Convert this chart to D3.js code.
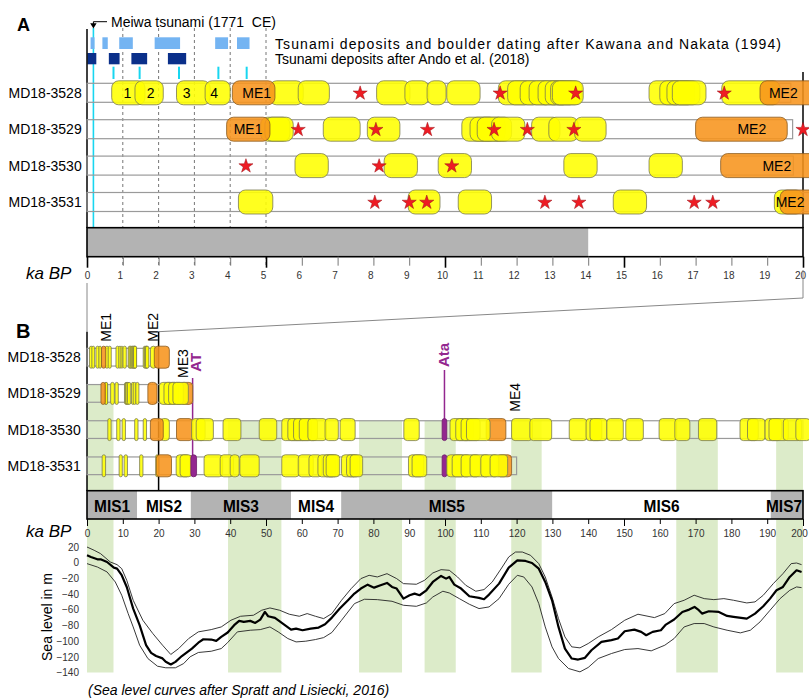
<!DOCTYPE html>
<html><head><meta charset="utf-8">
<script src="https://cdn.jsdelivr.net/npm/d3@7"></script>
<style>
body{margin:0;background:#fff}
svg{display:block;font-family:"Liberation Sans",Arial,sans-serif}
</style></head><body>
<svg id="chart" width="809" height="698"></svg>
<script>
// ---------- data ----------
const cores = ["MD18-3528", "MD18-3529", "MD18-3530", "MD18-3531"];

// dated units per core: [from ka, to ka, kind]  y = dated layer, o = megaevent, p = tephra
const units3528 = [[0.69,1.62,"y"],[1.34,2.13,"y"],[2.5,3.44,"y"],[3.3,4.0,"y"],[5.1,6.04,"y"],[4.06,5.25,"o"],[5.9,6.77,"y"],
  [8.09,9.02,"y"],[8.88,9.55,"y"],[9.5,10.03,"y"],[10.05,10.98,"y"],
  [11.49,12.42,"y"],[11.75,12.65,"y"],[12.1,13.02,"y"],[12.35,13.26,"y"],[12.6,13.49,"y"],[12.8,13.68,"y"],[12.95,13.82,"y"],[13.0,13.86,"y"],
  [15.7,16.66,"y"],[16.0,16.98,"y"],[16.2,17.12,"y"],[16.35,17.29,"y"],[17.73,19.36,"y"],[18.8,23.0,"o"]];
const units3529 = [[4.85,5.67,"y"],[4.97,5.76,"y"],[3.9,5.11,"o"],[6.6,7.63,"y"],[7.83,8.74,"y"],
  [10.47,11.44,"y"],[10.7,11.68,"y"],[10.9,11.86,"y"],[11.3,12.23,"y"],
  [12.42,13.21,"y"],[12.9,13.72,"y"],[13.62,14.5,"y"],[17.0,19.56,"o"],
  [26.0,29.5,"o"],[20.2,24.1,"y"],[21.5,25.5,"y"],[22.8,26.9,"y"],[24.0,28.3,"y"]];
const units3530 = [[5.81,6.74,"y"],[8.3,9.23,"y"],[9.81,10.74,"y"],[13.32,14.25,"y"],[15.7,16.63,"y"],
  [20.4,23.0,"y"],[17.7,21.3,"o"],[25.0,29.5,"o"],[29.2,33.0,"y"],[30.5,35.3,"y"],[38.0,43.0,"y"],[48.1,53.0,"y"],
  [54.4,59.5,"y"],[56.1,61.2,"y"],[57.7,62.8,"y"],[59.3,64.4,"y"],[61.7,66.9,"y"],[66.5,70.2,"y"],[70.7,74.9,"y"],
  [88.5,92.8,"y"],[99.2,100.5,"p"],[111.5,117.0,"o"],[101.4,107.2,"y"],[103.0,107.9,"y"],[104.5,109.8,"y"],[106.0,112.6,"y"],
  [118.6,124.4,"y"],[123.7,129.8,"y"],[134.7,139.6,"y"],[139.4,143.8,"y"],[140.5,145.2,"y"],[145.2,149.8,"y"],[150.5,155.4,"y"],
  [159.8,164.7,"y"],[164.2,168.4,"y"],[170.8,175.9,"y"],
  [182.4,187.5,"y"],[184.5,189.4,"y"],[189.4,194.0,"y"],[190.5,195.9,"y"],[194.5,199.6,"y"],[198.0,202.0,"y"]];
const units3531 = [[4.23,5.19,"y"],[8.97,9.86,"y"],[10.37,11.3,"y"],[14.7,15.63,"y"],[19.2,20.0,"y"],[19.36,23.6,"o"],
  [24.9,28.8,"y"],[26.0,29.3,"y"],[29.0,30.6,"p"],[32.7,37.9,"y"],[37.2,40.9,"y"],[40.0,42.5,"y"],[42.7,48.1,"y"],
  [54.4,59.3,"y"],[59.0,63.2,"y"],[62.0,65.6,"y"],[64.5,69.5,"y"],[66.0,70.2,"y"],[66.8,70.6,"y"],
  [71.1,75.5,"y"],[72.5,76.2,"y"],[73.5,77.0,"y"],[89.8,94.1,"y"],[90.8,94.9,"y"],[99.2,100.5,"p"],
  [114.5,118.6,"o"],[100.5,105.6,"y"],[102.0,107.2,"y"],[104.5,109.8,"y"],[107.0,112.6,"y"],[110.0,115.0,"y"],[112.6,117.5,"y"]];

// boulder / event ages (ka) marked by stars
const stars3528 = [7.63, 11.54, 13.65, 17.8];
const stars3529 = [5.9, 8.07, 9.51, 11.37, 12.3, 13.6, 20.0];
const stars3530 = [4.44, 8.16, 10.19];
const stars3531 = [8.04, 9.0, 9.49, 12.79, 13.74, 16.96, 17.48];

// names written inside units of the 0-20 ka panel: [core index, text, ka]
const unitTags = [[0,"1",1.13],[0,"2",1.78],[0,"3",2.78],[0,"4",3.55],[0,"ME1",4.74],[0,"ME2",19.45],
  [1,"ME1",4.5],[1,"ME2",18.57],[2,"ME2",19.27],[3,"ME2",19.64]];

// extent of each core record (ka)
const recordEndA = [19.66, 19.71, 19.73, 20.3];
const recordEndB = [19.66, 29.5, 200, 120];

// tsunami records (ka BP)
const meiwaAge = 0.179;
const kawanaNakata = [[0.1,0.21],[0.43,0.58],[0.9,1.28],[1.89,2.6],[3.58,3.94],[4.19,4.54]];
const andoDeposits = [[0.01,0.26],[0.61,0.91],[1.24,1.68],[2.26,2.77]];
const boulderDates = [0.74, 1.47, 2.57, 3.67, 4.46];
const guideAges = [1, 2, 3, 4, 5];

// marine isotope stages
const misBounds = [0, 14, 29, 57, 71, 130, 191, 200];
const misNames = ["MIS1","MIS2","MIS3","MIS4","MIS5","MIS6","MIS7"];
const warmBands = [[0,7.4],[39.4,54.3],[76,88],[94.3,103],[118.5,127],[164.6,176.2],[192.5,200]];
const warmBandTopCore = [1, 2, 2, 2, 2, 2, 2];

// event labels in the 0-200 ka panel: [text, ka, kind]
const eventTags = [["ME1",5.3,"k"],["ME2",18.3,"k"],["ME3",26.7,"k"],["AT",30.5,"p"],["Ata",99.7,"p"],["ME4",119.5,"k"]];
const tephraLines = [[29.5, 3, "AT"], [99.85, 2, "Ata"]];

// sea level (m) vs age (ka): mean and envelope
const seaMean = [[0,9.4],[1.1,7.3],[2.9,4.3],[3.8,4.3],[5.6,0.9],[7.5,-6.3],[8.4,-7.6],[9.7,-16],[11.1,-31],[12.9,-58.5],[14.7,-79.7],[16.5,-105],[17.9,-115],[19.3,-119],[21.1,-122],[22,-126.4],[23.4,-129.8],[24.7,-126.4],[26.5,-119],[29.3,-109.5],[31.1,-102],[32.5,-97.6],[34.7,-98],[36.1,-99.7],[37.5,-94.6],[39.3,-89],[41.1,-79.7],[42.5,-74.2],[43.8,-75.5],[45.6,-74.2],[47,-76.8],[48.4,-72.5],[49.7,-62.8],[50.6,-68.3],[52.5,-70.4],[54.7,-77.6],[57,-85.3],[58.4,-84],[60.2,-86.1],[62.5,-84],[64.7,-82.7],[66.5,-78.5],[68.4,-70],[70.6,-58.5],[72.9,-47.9],[74.7,-39.4],[76.5,-33],[78.4,-28],[80.2,-31.8],[82,-28.8],[83.8,-25.8],[85.2,-30.9],[86.5,-33],[88.4,-45.8],[90.1,-41.5],[91.5,-39.4],[92.9,-41.5],[94.8,-35.2],[96.6,-24.6],[98.9,-16.9],[100.3,-20.3],[101.2,-18.2],[102.6,-28],[104.5,-33],[106.8,-42.8],[109.5,-44.9],[110.9,-46.6],[112.3,-40.7],[115.1,-26.7],[117.8,-6.3],[120.2,3],[122.5,2.2],[124.3,-0.4],[126.2,-7.6],[128,-24.6],[129.9,-47.9],[131.7,-81.9],[133.5,-109.5],[135.4,-122.2],[137.2,-123.5],[139.1,-121.3],[140.9,-111.6],[143.7,-101],[146.5,-98.8],[148.3,-96.7],[150.2,-87.4],[152.9,-85.3],[154.8,-88.2],[156.2,-92.5],[158,-88.2],[160.3,-86.1],[161.7,-78.9],[164,-72.5],[166.3,-62.8],[168.2,-59.8],[169.7,-56.4],[170.9,-60.6],[171.8,-64.9],[173.7,-61.9],[176.5,-62.8],[178.8,-67.9],[180.6,-69.1],[184.3,-71.3],[186.6,-64.9],[188.9,-55.6],[190.8,-45.8],[192.6,-35.2],[194.4,-30.9],[196.3,-18.2],[198.2,-9.7],[199.6,-11.8]];
const seaUpper = [[0,20],[2,15.8],[3.8,11.5],[6.5,0.9],[8.4,-2.5],[9.7,-7.6],[11.1,-22.4],[12.9,-47.9],[15.6,-73.4],[18.4,-90.4],[21.1,-105.2],[23.4,-117],[25.6,-109.5],[28.4,-96.7],[31.1,-88.2],[34.7,-85.3],[37.5,-81.9],[40.2,-73.4],[42.9,-68.3],[46.5,-67],[48.8,-60.6],[51.1,-57.7],[53.8,-60.6],[56.5,-65.7],[59.3,-68.3],[61.5,-64.9],[63.8,-68.3],[66.1,-71.3],[68.4,-64.9],[71.1,-47.9],[73.8,-33],[76.5,-20.3],[78.8,-16.1],[81.1,-18.2],[83.8,-14],[86.5,-20.3],[88.4,-26.7],[92,-27.5],[94.3,-22.4],[96.6,-13.1],[98.9,-8.9],[101.2,-9.7],[103.5,-18.2],[105.8,-28.8],[108.6,-36.4],[110.9,-34.3],[113.2,-24.6],[116,-5.5],[117.8,7.3],[119.7,13.6],[121.6,13.6],[123.9,9.4],[126.2,-1.2],[128,-18.2],[129.9,-43.7],[131.7,-71.3],[133.5,-94.6],[135.4,-107.3],[137.7,-108.6],[140,-103.1],[142.8,-94.6],[146.5,-85.3],[150.2,-73.4],[153.9,-65.7],[158.5,-70],[161.4,-64.9],[164,-52.2],[166.8,-47.9],[169.6,-41.5],[172.4,-45.8],[175.1,-47.1],[177.9,-45.8],[180.6,-47.9],[184.3,-51.3],[186.6,-50],[188.9,-41.5],[191.7,-26.7],[194.4,-14],[196.7,-1.2],[198.2,-0.4],[199.6,-2.5]];
const seaLower = [[0,-1.2],[2.9,-5.5],[5.6,-11.8],[7.9,-24.6],[9.7,-41.5],[11.5,-64.9],[12.9,-81.9],[14.7,-105.2],[17,-122.2],[19.7,-132],[22,-134],[24.7,-134],[27,-128.6],[28.8,-120],[31.1,-114.5],[34.7,-112.9],[37.5,-109.5],[39.3,-101.8],[42,-88.2],[45.6,-86.1],[48.4,-85.3],[51.1,-81.9],[53.4,-88.2],[56.1,-96.7],[58.4,-101],[61.1,-100.1],[63.8,-98],[66.1,-95.5],[68.4,-89],[71.1,-73.4],[74.7,-52.2],[77.5,-46.6],[81.1,-47.1],[85.2,-49.2],[88.4,-54.3],[92,-55.6],[94.8,-51.3],[96.6,-43.7],[99.4,-36.4],[101.2,-38.6],[104,-45.8],[106.8,-53],[109.5,-58.5],[112.3,-56.4],[115.1,-45.8],[117.8,-27.5],[120.2,-16.1],[122,-18.2],[124.3,-30.9],[126.2,-52.2],[128,-81.9],[129.9,-107.3],[131.7,-122.2],[134.5,-134.9],[137.7,-139.2],[140,-133.6],[142.8,-122.2],[146.5,-115.8],[150.2,-110.7],[153.9,-109.5],[157.6,-112.4],[161.4,-105.2],[164,-96.7],[166.8,-81.9],[169.6,-77.6],[172.4,-77.6],[175.1,-81.9],[178.8,-86.1],[182.5,-89.5],[185.3,-86.1],[188,-75.5],[190.8,-60.6],[193.6,-45.8],[196.3,-35.2],[198.2,-30.9],[199.6,-31.8]];

const units = [units3528, units3529, units3530, units3531];
const stars = [stars3528, stars3529, stars3530, stars3531];

// ---------- styles ----------
const FILL = {y: "#ffff00", o: "#f7941d", p: "#93278f"};
const EDGE = {y: "#7a7a52", o: "#8a5a20", p: "#6e1d6b"};
const PURPLE = "#93278f", CYAN = "#18d6f0", GREEN = "#dcebc9", GREY = "#b3b3b3";

// ---------- scales ----------
const svg = d3.select("#chart");
const xA = d3.scaleLinear().domain([0, 20]).range([87, 803]);
const xB = d3.scaleLinear().domain([0, 200]).range([87, 803]);
const yA = d3.scalePoint().domain(cores).range([92.8, 202]);
const yB = d3.scalePoint().domain(cores).range([357.2, 465.8]);
const ySL = d3.scaleLinear().domain([-140, 20]).range([672.5, 547]);

function drawUnits(g, x, y, list, core, h, rx, op) {
  g.selectAll(null).data(list).join("rect")
    .attr("x", d => x(d[0])).attr("width", d => x(d[1]) - x(d[0]))
    .attr("y", y(core) - h / 2).attr("height", h)
    .attr("rx", d => Math.min(rx, (x(d[1]) - x(d[0])) / 2))
    .attr("fill", d => FILL[d[2]]).attr("fill-opacity", d => d[2] === "p" ? 1 : op)
    .attr("stroke", d => EDGE[d[2]]).attr("stroke-width", 0.8);
}
function drawRecord(g, x, y, core, end, h) {
  g.append("rect").attr("x", x(0)).attr("width", x(end) - x(0))
    .attr("y", y(core) - h / 2).attr("height", h)
    .attr("fill", "none").attr("stroke", "#9a9a9a").attr("stroke-width", 1.2);
}

// ================= panel A =================
const A = svg.append("g");
A.append("text").attr("x", 17).attr("y", 31).attr("font-size", 18).attr("font-weight", "bold").text("A");

// guide lines
A.selectAll(".guide").data(guideAges).join("line")
  .attr("x1", d => xA(d)).attr("x2", d => xA(d)).attr("y1", 28).attr("y2", 266)
  .attr("stroke", "#666").attr("stroke-width", 0.9).attr("stroke-dasharray", "3,3");

// Meiwa tsunami marker
A.append("line").attr("x1", xA(meiwaAge)).attr("x2", xA(meiwaAge)).attr("y1", 28).attr("y2", 228)
  .attr("stroke", CYAN).attr("stroke-width", 1.6);
A.append("path").attr("d", `M107,21.7H${xA(meiwaAge)}V25`).attr("fill", "none").attr("stroke", "#000").attr("stroke-width", 1);
A.append("path").attr("d", `M${xA(meiwaAge) - 3.2},23.3H${xA(meiwaAge) + 3.2}L${xA(meiwaAge)},28.6Z`).attr("fill", "#000");
A.append("text").attr("x", 111).attr("y", 26.5).attr("font-size", 14).style("white-space", "pre")
  .text("Meiwa tsunami (1771  CE)");

// tsunami deposit records
A.selectAll(".kn").data(kawanaNakata).join("rect")
  .attr("x", d => xA(d[0])).attr("width", d => xA(d[1]) - xA(d[0]))
  .attr("y", 37.3).attr("height", 11.7).attr("fill", "#74b4f2");
A.selectAll(".ando").data(andoDeposits).join("rect")
  .attr("x", d => xA(d[0])).attr("width", d => xA(d[1]) - xA(d[0]))
  .attr("y", 53).attr("height", 11.3).attr("fill", "#0a2f8a");
A.selectAll(".bd").data(boulderDates).join("line")
  .attr("x1", d => xA(d)).attr("x2", d => xA(d)).attr("y1", 66.7).attr("y2", 79)
  .attr("stroke", CYAN).attr("stroke-width", 2);
A.append("text").attr("x", 275).attr("y", 48.5).attr("font-size", 14)
  .attr("textLength", 506).attr("lengthAdjust", "spacing")
  .text("Tsunami deposits and boulder dating after Kawana and Nakata (1994)");
A.append("text").attr("x", 275).attr("y", 64.3).attr("font-size", 14)
  .text("Tsunami deposits after Ando et al. (2018)");

// frame lines
A.append("line").attr("x1", 87).attr("x2", 87).attr("y1", 29).attr("y2", 228).attr("stroke", "#000").attr("stroke-width", 1.5);
A.append("line").attr("x1", xA(20)).attr("x2", xA(20)).attr("y1", 72).attr("y2", 228).attr("stroke", "#000").attr("stroke-width", 1.5);

// cores
cores.forEach((c, i) => {
  drawRecord(A, xA, yA, c, recordEndA[i], 19);
  drawUnits(A, xA, yA, units[i], c, 24, 7, 0.88);
  A.selectAll(null).data(stars[i]).join("path")
    .attr("d", d3.symbol(d3.symbolStar, 62))
    .attr("transform", d => `translate(${xA(d)},${yA(c) + 0.5})`)
    .attr("fill", "#ee1c24").attr("stroke", "#9b0f14").attr("stroke-width", 0.5);
  A.append("text").attr("x", 81.7).attr("y", yA(c) + 5).attr("text-anchor", "end").attr("font-size", 14).text(c);
});
A.selectAll(".tag").data(unitTags).join("text")
  .attr("x", d => xA(d[2])).attr("y", d => yA(cores[d[0]]) + 5.2)
  .attr("text-anchor", "middle").attr("font-size", 14).text(d => d[1]);

// time bar and axis
A.append("rect").attr("x", xA(0)).attr("width", xA(14) - xA(0)).attr("y", 227.7).attr("height", 29).attr("fill", GREY);
A.append("rect").attr("x", xA(0)).attr("width", xA(20) - xA(0)).attr("y", 227.7).attr("height", 29)
  .attr("fill", "none").attr("stroke", "#000").attr("stroke-width", 1.6);
const axA = A.append("g").attr("transform", "translate(0,256.7)")
  .call(d3.axisBottom(xA).tickValues(d3.range(0, 21)).tickSize(9).tickPadding(6).tickFormat(d3.format("d")));
axA.select(".domain").remove();
axA.selectAll(".tick line").attr("stroke", d => d % 5 ? "#777" : "#000").attr("stroke-width", d => d % 5 ? 1 : 1.6)
  .attr("y2", d => d % 5 ? 9 : 11);
axA.selectAll(".tick text").attr("font-size", 10).attr("fill", "#333").attr("font-family", "Liberation Sans")
  .attr("dx", d => d === 0 ? 0 : -3);
A.append("text").attr("x", 26).attr("y", 278.5).attr("font-size", 17).attr("font-style", "italic").text("ka BP");

// ================= link lines =================
svg.append("line").attr("x1", 87).attr("x2", 87).attr("y1", 283).attr("y2", 331.7).attr("stroke", "#888").attr("stroke-width", 1);
svg.append("path").attr("d", `M${xA(20)},270V298L${xB(20)},331.7`).attr("fill", "none").attr("stroke", "#888").attr("stroke-width", 1);

// ================= panel B =================
const B = svg.append("g");
B.append("text").attr("x", 16).attr("y", 338.3).attr("font-size", 20).attr("font-weight", "bold").text("B");

// warm stage shading
B.selectAll(".warm").data(warmBands).join("rect")
  .attr("x", d => xB(d[0])).attr("width", d => xB(d[1]) - xB(d[0]))
  .attr("y", (d, i) => yB(cores[warmBandTopCore[i]]) - 8.85)
  .attr("height", (d, i) => ySL(-140) - (yB(cores[warmBandTopCore[i]]) - 8.85))
  .attr("fill", GREEN);

B.append("line").attr("x1", 87).attr("x2", 87).attr("y1", 331.7).attr("y2", 491).attr("stroke", "#000").attr("stroke-width", 1.5);
B.append("line").attr("x1", xB(20)).attr("x2", xB(20)).attr("y1", 331.7).attr("y2", 491).attr("stroke", "#000").attr("stroke-width", 1.5);

// tephra connector lines
const tephraTop = {AT: 378, Ata: 370};
B.selectAll(".teph").data(tephraLines).join("line")
  .attr("x1", d => xB(d[0])).attr("x2", d => xB(d[0]))
  .attr("y1", d => tephraTop[d[2]]).attr("y2", d => yB(cores[d[1]]) - 8.85)
  .attr("stroke", PURPLE).attr("stroke-width", 1.5);

cores.forEach((c, i) => {
  drawRecord(B, xB, yB, c, recordEndB[i], 17.7);
  drawUnits(B, xB, yB, units[i], c, 22, 3.5, 0.88);
  B.append("text").attr("x", 80.7).attr("y", yB(c) + 5).attr("text-anchor", "end").attr("font-size", 14).text(c);
});

// vertical event labels
const tagBase = {ME1: 341.7, ME2: 341.7, ME3: 378, AT: 371.7, Ata: 367, ME4: 411.7};
B.selectAll(".ev").data(eventTags).join("text")
  .attr("transform", d => `translate(${xB(d[1]) + 5},${tagBase[d[0]]}) rotate(-90)`)
  .attr("font-size", d => d[2] === "p" ? 15 : 14)
  .attr("font-weight", d => d[2] === "p" ? "bold" : "normal")
  .attr("fill", d => d[2] === "p" ? PURPLE : "#000")
  .text(d => d[0]);

// MIS bar
const mis = misNames.map((n, i) => ({name: n, a: misBounds[i], b: misBounds[i + 1], odd: i % 2 === 0}));
B.selectAll(".mis").data(mis).join("rect")
  .attr("x", d => xB(d.a)).attr("width", d => xB(d.b) - xB(d.a))
  .attr("y", 490.7).attr("height", 28.3).attr("fill", d => d.odd ? GREY : "#fff");
B.append("rect").attr("x", xB(0)).attr("width", xB(200) - xB(0)).attr("y", 490.7).attr("height", 28.3)
  .attr("fill", "none").attr("stroke", "#000").attr("stroke-width", 1.6);
B.selectAll(".misl").data(mis).join("text")
  .attr("x", d => Math.min(xB((d.a + d.b) / 2), xB(200) - 19))
  .attr("y", 511.7).attr("text-anchor", "middle").attr("font-size", 16).attr("font-weight", "bold")
  .attr("textLength", 36).attr("lengthAdjust", "spacingAndGlyphs")
  .text(d => d.name);

const axB = B.append("g").attr("transform", "translate(0,519)")
  .call(d3.axisBottom(xB).tickValues(d3.range(0, 201, 10)).tickSize(5).tickPadding(6).tickFormat(d3.format("d")));
axB.select(".domain").remove();
axB.selectAll(".tick line").attr("stroke", "#000").attr("y2", d => d % 50 ? 5 : 7);
axB.selectAll(".tick text").attr("font-size", 10).attr("fill", "#333").attr("font-family", "Liberation Sans")
  .attr("dx", d => d === 200 ? -4 : 0);
B.append("text").attr("x", 26).attr("y", 536.7).attr("font-size", 17).attr("font-style", "italic").text("ka BP");

// ================= sea level =================
const S = svg.append("g");
const axS = S.append("g").attr("transform", "translate(79,0)")
  .call(d3.axisLeft(ySL).tickValues(d3.range(-140, 21, 20)).tickSize(0).tickPadding(0));
axS.select(".domain").remove();
axS.selectAll(".tick text").attr("font-size", 10).attr("fill", "#333").attr("font-family", "Liberation Sans");
S.append("text").attr("transform", "translate(51.5,617) rotate(-90)").attr("text-anchor", "middle")
  .attr("font-size", 14).text("Sea level in m");

const line = d3.line().x(d => xB(d[0])).y(d => ySL(d[1]));
S.append("path").attr("d", line(seaUpper)).attr("fill", "none").attr("stroke", "#222").attr("stroke-width", 0.9);
S.append("path").attr("d", line(seaLower)).attr("fill", "none").attr("stroke", "#222").attr("stroke-width", 0.9);
S.append("path").attr("d", line(seaMean)).attr("fill", "none").attr("stroke", "#000").attr("stroke-width", 2.2)
  .attr("stroke-linejoin", "round");

S.append("text").attr("x", 88).attr("y", 695).attr("font-size", 14).attr("font-style", "italic")
  .text("(Sea level curves after Spratt and Lisiecki, 2016)");
</script>
</body></html>
